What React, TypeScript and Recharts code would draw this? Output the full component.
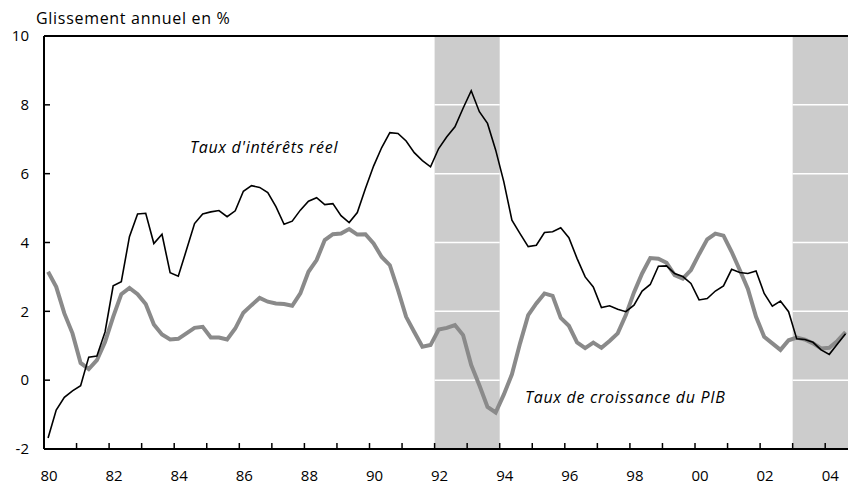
import React from 'react';
import { LineChart, Line, XAxis, YAxis, ReferenceArea, ReferenceLine } from 'recharts';

// quarterly series, 1980 Q1 .. 2004 Q3
const tauxReel = [
  -1.68, -0.87, -0.5, -0.31, -0.16, 0.67, 0.7, 1.4, 2.74, 2.86,
  4.17, 4.83, 4.85, 3.97, 4.24, 3.12, 3.02, 3.78, 4.55, 4.83,
  4.89, 4.93, 4.75, 4.92, 5.49, 5.65, 5.6, 5.45, 5.04, 4.53,
  4.62, 4.94, 5.2, 5.3, 5.1, 5.13, 4.78, 4.58, 4.87, 5.57,
  6.22, 6.76, 7.19, 7.17, 6.95, 6.61, 6.38, 6.2, 6.73, 7.07,
  7.36, 7.9, 8.41, 7.8, 7.46, 6.69, 5.77, 4.65, 4.26, 3.88,
  3.92, 4.29, 4.31, 4.43, 4.14, 3.54, 3.0, 2.71, 2.11, 2.16,
  2.06, 1.99, 2.18, 2.59, 2.78, 3.31, 3.32, 3.1, 3.01, 2.81,
  2.33, 2.37, 2.59, 2.74, 3.22, 3.13, 3.1, 3.17, 2.52, 2.15,
  2.3, 1.99, 1.2, 1.18, 1.1, 0.88, 0.75, 1.05, 1.35,
];

const croissancePib = [
  3.15, 2.71, 1.94, 1.36, 0.5, 0.32, 0.58, 1.11, 1.84, 2.5,
  2.68, 2.5, 2.21, 1.62, 1.33, 1.18, 1.2, 1.36, 1.52, 1.55,
  1.24, 1.24, 1.18, 1.5, 1.96, 2.18, 2.39, 2.28, 2.23, 2.21,
  2.16, 2.52, 3.15, 3.49, 4.07, 4.24, 4.26, 4.39, 4.23, 4.24,
  3.97, 3.58, 3.34, 2.62, 1.84, 1.4, 0.97, 1.02, 1.47, 1.52,
  1.6, 1.31, 0.44, -0.15, -0.78, -0.94, -0.42, 0.17, 1.07, 1.89,
  2.23, 2.52, 2.45, 1.81, 1.58, 1.1, 0.93, 1.09, 0.94, 1.14,
  1.36, 1.89, 2.55, 3.1, 3.55, 3.53, 3.41, 3.05, 2.95, 3.2,
  3.66, 4.09, 4.26, 4.2, 3.73, 3.2, 2.65, 1.84, 1.26, 1.07,
  0.88, 1.16, 1.24, 1.18, 1.07, 0.92, 0.94, 1.14, 1.4,
];

const xTicks = [
  1980, 1981, 1982, 1983, 1984, 1985, 1986, 1987, 1988, 1989, 1990, 1991, 1992,
  1993, 1994, 1995, 1996, 1997, 1998, 1999, 2000, 2001, 2002, 2003, 2004,
];
const yTicks = [-2, 0, 2, 4, 6, 8, 10];
const gridValues = [0, 2, 4, 6, 8];
const shaded = [
  { from: 1992, to: 1994 },
  { from: 2003, to: 2004.7 },
];

const data = tauxReel.map((v, i) => ({
  t: 1980 + (i + 0.5) / 4,
  reel: v,
  pib: croissancePib[i],
}));

const font = '"Open Sans", Lato, sans-serif';
const labelStyle = { position: 'absolute' as const, fontSize: 16, letterSpacing: 0.7, color: '#000', whiteSpace: 'nowrap' as const };

export default function App() {
  return (
    <div style={{ position: 'absolute', left: 0, top: 0, width: 848, height: 486, background: '#fff', fontFamily: font }}>
      <LineChart width={848} height={486} data={data} margin={{ top: 36, right: 0, bottom: 0, left: 0 }}>
        {shaded.map((s) => (
          <ReferenceArea key={s.from} x1={s.from} x2={s.to} y1={-2} y2={10} fill="#cccccc" fillOpacity={1} stroke="none" />
        ))}
        {shaded.map((s) =>
          gridValues.map((g) => (
            <ReferenceLine
              key={`${s.from}-${g}`}
              segment={[{ x: s.from, y: g }, { x: s.to, y: g }]}
              stroke="#ffffff"
              strokeWidth={1.5}
            />
          ))
        )}
        <XAxis
          type="number"
          dataKey="t"
          domain={[1980, 2004.7]}
          ticks={xTicks}
          allowDataOverflow
          height={37}
          tickSize={-6}
          tickMargin={27}
          stroke="#000"
          axisLine={{ stroke: '#000', strokeWidth: 2 }}
          tickLine={{ stroke: '#000', strokeWidth: 1.5 }}
          tick={{ fill: '#000', fontSize: 15, fontFamily: font, dx: 5 }}
          tickFormatter={(v: number) => (v % 2 === 0 ? String(v).slice(2) : '')}
        />
        <YAxis
          type="number"
          domain={[-2, 10]}
          ticks={yTicks}
          width={44}
          tickSize={-6}
          tickMargin={21}
          stroke="#000"
          axisLine={{ stroke: '#000', strokeWidth: 2 }}
          tickLine={{ stroke: '#000', strokeWidth: 1.5 }}
          tick={{ fill: '#000', fontSize: 15, fontFamily: font }}
        />
        <ReferenceLine y={10} stroke="#000" strokeWidth={2} />
        <Line type="linear" dataKey="pib" stroke="#8a8a8a" strokeWidth={4} dot={false} isAnimationActive={false} />
        <Line type="linear" dataKey="reel" stroke="#000" strokeWidth={1.6} dot={false} isAnimationActive={false} />
      </LineChart>
      <div style={{ ...labelStyle, left: 36, top: 7 }}>Glissement annuel en %</div>
      <div style={{ ...labelStyle, left: 190, top: 136, fontStyle: 'italic' }}>Taux d'intérêts réel</div>
      <div style={{ ...labelStyle, left: 525, top: 386, fontStyle: 'italic' }}>Taux de croissance du PIB</div>
    </div>
  );
}
